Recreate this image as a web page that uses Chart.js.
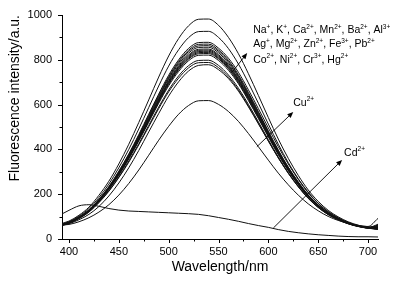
<!DOCTYPE html>
<html lang="en">
<head>
    <meta charset="UTF-8">
    <title>Fluorescence spectra</title>
    <style>
        body {
            margin: 0;
            background-color: #fff;
        }
        #chart {
            display: block;
        }
    </style>
</head>
<body>

<canvas id="chart" width="415" height="284"></canvas>

<script src="https://cdn.jsdelivr.net/npm/chart.js"></script>

<script>
    // wavelength grid (nm)
    const wavelengths = [390, 400, 410, 420, 430, 440, 450, 460, 470, 480, 490, 500, 510, 520, 530, 540, 550,
        560, 570, 580, 590, 600, 610, 620, 630, 640, 650, 660, 670, 680, 690, 700, 710];

    // spectra of the probe with the other metal ions
    const s985 = [66, 80, 106, 142, 195, 258, 335, 423, 520, 621, 723, 817, 895, 952, 981, 982, 954, 900, 827, 738, 641, 542, 446, 360, 284, 219, 168, 128, 99, 77, 62, 52, 62];
    const s930 = [62, 77, 102, 136, 185, 245, 318, 400, 491, 587, 683, 772, 845, 899, 926, 927, 900, 850, 781, 697, 606, 513, 423, 341, 269, 209, 160, 123, 95, 74, 60, 51, 55];
    const s880 = [61, 75, 98, 130, 177, 234, 303, 380, 466, 557, 647, 731, 800, 851, 877, 878, 852, 807, 744, 666, 582, 496, 412, 335, 266, 206, 158, 121, 94, 73, 59, 51, 58];
    const s872 = [61, 74, 98, 129, 176, 232, 300, 377, 462, 552, 641, 724, 793, 843, 869, 870, 844, 798, 733, 654, 569, 482, 397, 321, 255, 197, 152, 117, 92, 72, 59, 50, 48];
    const s865 = [60, 74, 97, 129, 175, 231, 298, 374, 459, 547, 636, 718, 787, 837, 862, 863, 838, 792, 727, 649, 565, 478, 394, 319, 253, 196, 151, 117, 91, 72, 58, 50, 66];
    const s858 = [60, 73, 97, 128, 173, 229, 296, 371, 455, 543, 631, 713, 780, 830, 855, 856, 831, 785, 722, 644, 560, 474, 391, 317, 251, 195, 150, 116, 91, 71, 58, 56, 92];
    const s850 = [60, 73, 96, 127, 172, 227, 293, 368, 451, 538, 625, 706, 773, 822, 847, 848, 823, 778, 715, 638, 555, 470, 388, 314, 249, 193, 149, 115, 90, 71, 58, 50, 44];
    const s845 = [60, 73, 96, 126, 171, 226, 291, 366, 448, 535, 621, 702, 768, 817, 842, 843, 818, 773, 711, 634, 552, 467, 386, 312, 248, 192, 148, 115, 90, 71, 58, 50, 52];
    const s840 = [60, 72, 95, 126, 170, 225, 290, 364, 446, 532, 618, 698, 764, 812, 837, 838, 813, 769, 707, 631, 549, 465, 384, 311, 246, 191, 148, 114, 89, 71, 58, 50, 46];
    const s835 = [60, 72, 95, 125, 169, 223, 288, 362, 443, 529, 614, 694, 759, 807, 832, 833, 808, 764, 703, 627, 545, 462, 382, 309, 245, 190, 147, 113, 89, 70, 58, 50, 60];
    const s830 = [59, 72, 94, 125, 169, 222, 287, 360, 441, 526, 611, 690, 755, 803, 827, 828, 804, 760, 698, 623, 542, 459, 379, 307, 244, 189, 146, 113, 89, 70, 57, 50, 44];
    const s823 = [59, 72, 94, 124, 167, 221, 284, 357, 437, 521, 606, 684, 748, 796, 820, 821, 797, 753, 693, 618, 538, 456, 376, 305, 242, 188, 145, 112, 88, 70, 57, 50, 55];
    const s800 = [58, 71, 92, 121, 164, 215, 277, 348, 425, 507, 589, 665, 728, 774, 797, 798, 775, 732, 673, 601, 523, 443, 366, 297, 236, 183, 142, 110, 87, 69, 57, 49, 43];
    const s790 = [58, 70, 91, 120, 162, 213, 274, 343, 420, 501, 582, 657, 718, 764, 787, 788, 765, 723, 665, 594, 517, 438, 362, 293, 233, 181, 141, 109, 86, 68, 56, 49, 50];
    const s780 = [58, 68, 86, 110, 145, 192, 250, 318, 395, 478, 560, 638, 702, 750, 775, 778, 756, 716, 660, 590, 514, 437, 362, 294, 234, 182, 141, 109, 86, 68, 56, 48, 43];
    // quenched spectra
    const cuSpectrum = [62, 65, 77, 95, 120, 153, 196, 248, 308, 374, 441, 503, 557, 596, 617, 618, 601, 569, 525, 471, 412, 352, 294, 242, 196, 157, 126, 101, 83, 70, 61, 55, 51];
    const cdSpectrum = [105, 128, 148, 153, 146, 136, 129, 125, 123, 121, 119, 117, 115, 113, 110, 104, 96, 88, 79, 69, 60, 52, 42, 34, 28, 23, 19, 16, 13, 11, 10, 10, 9];

    const xTicks = [400, 425, 450, 475, 500, 525, 550, 575, 600, 625, 650, 675, 700];
    const yTicks = [0, 100, 200, 300, 400, 500, 600, 700, 800, 900, 1000];

    // label text, each piece is [symbol, charge]
    const ionLines = [
        [['Na', '+'], ['K', '+'], ['Ca', '2+'], ['Mn', '2+'], ['Ba', '2+'], ['Al', '3+']],
        [['Ag', '+'], ['Mg', '2+'], ['Zn', '2+'], ['Fe', '3+'], ['Pb', '2+']],
        [['Co', '2+'], ['Ni', '2+'], ['Cr', '3+'], ['Hg', '2+']]
    ];

    const allSeries = [s985, s930, s880, s872, s865, s858, s850, s845, s840, s835, s830, s823, s800, s790, s780, cuSpectrum, cdSpectrum];

    const datasets = allSeries.map(arr => ({
        data: arr.map((y, i) => ({x: wavelengths[i], y: y})),
        borderColor: '#111',
        borderWidth: 1,
        pointRadius: 0,
        fill: false,
        cubicInterpolationMode: 'monotone'
    }));

    const FONT = 'Arial, "Liberation Sans", sans-serif';

    function drawArrow(ctx, x1, y1, x2, y2) {
        const ang = Math.atan2(y2 - y1, x2 - x1);
        const len = 6, half = 2.5;
        ctx.beginPath();
        ctx.moveTo(x1, y1);
        ctx.lineTo(x2 - Math.cos(ang) * len * 0.8, y2 - Math.sin(ang) * len * 0.8);
        ctx.stroke();
        ctx.beginPath();
        ctx.moveTo(x2, y2);
        ctx.lineTo(x2 - Math.cos(ang) * len - Math.sin(ang) * half, y2 - Math.sin(ang) * len + Math.cos(ang) * half);
        ctx.lineTo(x2 - Math.cos(ang) * len + Math.sin(ang) * half, y2 - Math.sin(ang) * len - Math.cos(ang) * half);
        ctx.closePath();
        ctx.fill();
    }

    // writes "Sym^charge, Sym^charge" starting at x (baseline y)
    function drawIons(ctx, items, x, y) {
        items.forEach((it, i) => {
            ctx.font = '10.5px ' + FONT;
            ctx.fillText(it[0], x, y);
            x += ctx.measureText(it[0]).width;
            ctx.font = '6.5px ' + FONT;
            ctx.fillText(it[1], x, y - 4.5);
            x += ctx.measureText(it[1]).width;
            if (i < items.length - 1) {
                ctx.font = '10.5px ' + FONT;
                ctx.fillText(', ', x, y);
                x += ctx.measureText(', ').width;
            }
        });
    }

    const decorations = {
        id: 'decorations',
        afterDraw(chart) {
            const ctx = chart.ctx;
            const xs = chart.scales.x, ys = chart.scales.y;
            const area = chart.chartArea;
            ctx.save();
            ctx.strokeStyle = '#000';
            ctx.fillStyle = '#000';
            ctx.lineWidth = 1;

            // tick marks, outward, minor ones shorter
            xTicks.forEach(v => {
                const px = Math.round(xs.getPixelForValue(v)) + 0.5;
                const len = v % 50 === 0 ? 4 : 2.5;
                ctx.beginPath();
                ctx.moveTo(px, area.bottom);
                ctx.lineTo(px, area.bottom + len);
                ctx.stroke();
            });
            yTicks.forEach(v => {
                const py = Math.round(ys.getPixelForValue(v)) + 0.5;
                const len = v % 200 === 0 ? 4 : 2.5;
                ctx.beginPath();
                ctx.moveTo(area.left - len, py);
                ctx.lineTo(area.left, py);
                ctx.stroke();
            });

            // arrows
            const P = (x, y) => [xs.getPixelForValue(x), ys.getPixelForValue(y)];
            ctx.lineWidth = 0.9;
            drawArrow(ctx, ...P(563.7, 745), ...P(578.8, 830));
            drawArrow(ctx, ...P(588.5, 412), ...P(625, 567));
            drawArrow(ctx, ...P(605, 49), ...P(674, 353));

            // labels
            ctx.textBaseline = 'alphabetic';
            ctx.textAlign = 'left';
            const lineVals = [919, 856, 786];
            ionLines.forEach((items, i) => {
                const [lx, ly] = P(584.8, lineVals[i]);
                drawIons(ctx, items, lx, ly);
            });
            drawIons(ctx, [['Cu', '2+']], ...P(625, 594));
            drawIons(ctx, [['Cd', '2+']], ...P(676, 372));
            ctx.restore();
        }
    };

    new Chart(document.getElementById('chart'), {
        type: 'line',
        data: {datasets: datasets},
        options: {
            responsive: false,
            animation: false,
            layout: {padding: {top: 15, right: 37, left: 0, bottom: 0}},
            plugins: {
                legend: {display: false},
                tooltip: {enabled: false}
            },
            scales: {
                x: {
                    type: 'linear',
                    min: 393,
                    max: 710,
                    afterBuildTicks: scale => { scale.ticks = xTicks.map(v => ({value: v})); },
                    afterFit: scale => { scale.height = 45; },
                    grid: {display: false, drawTicks: true, tickLength: 4},
                    border: {display: true, color: '#000', width: 1},
                    ticks: {
                        color: '#000',
                        padding: 2,
                        maxRotation: 0,
                        autoSkip: false,
                        font: {family: FONT, size: 11},
                        callback: v => (v % 50 === 0 ? v : '')
                    },
                    title: {
                        display: true,
                        text: 'Wavelength/nm',
                        color: '#000',
                        font: {family: FONT, size: 14},
                        padding: {top: 0, bottom: 8}
                    }
                },
                y: {
                    min: 0,
                    max: 1000,
                    afterBuildTicks: scale => { scale.ticks = yTicks.map(v => ({value: v})); },
                    afterFit: scale => { scale.width = 62; },
                    grid: {display: false, drawTicks: true, tickLength: 4},
                    border: {display: true, color: '#000', width: 1},
                    ticks: {
                        color: '#000',
                        padding: 6,
                        autoSkip: false,
                        font: {family: FONT, size: 11},
                        callback: v => (v % 200 === 0 ? v : '')
                    },
                    title: {
                        display: true,
                        text: 'Fluorescence intensity/a.u.',
                        align: 'end',
                        color: '#000',
                        font: {family: FONT, size: 14},
                        padding: {top: 7, bottom: 0}
                    }
                }
            }
        },
        plugins: [decorations]
    });
</script>

</body>
</html>
